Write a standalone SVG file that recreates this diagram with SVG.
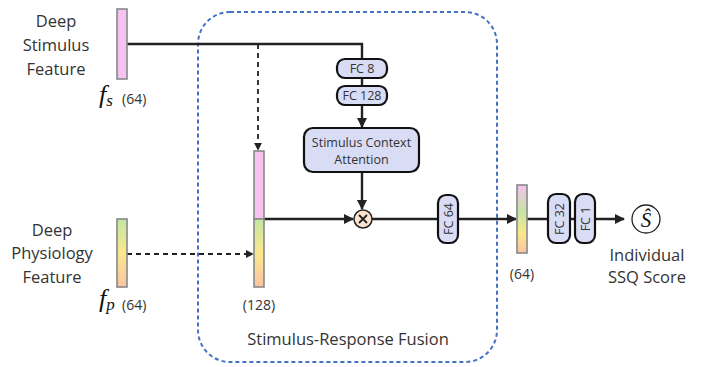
<svg xmlns="http://www.w3.org/2000/svg" width="702" height="367" viewBox="0 0 702 367">
  <style>
    .lbl { font-family: "Open Sans", "Liberation Sans", sans-serif; fill: #333; }
    .big { font-size: 16.5px; }
    .small { font-size: 12.5px; }
    .dim { font-size: 14px; }
    .fc { fill: #d9dcf5; stroke: #111; stroke-width: 2.2; }
    .bar { stroke: #888; stroke-width: 1.6; }
    .line { stroke: #222; stroke-width: 2.4; fill: none; }
    .dash { stroke: #222; stroke-width: 1.8; fill: none; stroke-dasharray: 5 4; }
    .math { font-family: "Liberation Serif", "DejaVu Serif", serif; font-style: italic; fill: #111; }
  </style>
  <defs>
    <marker id="arr" viewBox="0 0 10 10" refX="9" refY="5" markerWidth="4.2" markerHeight="4.2" orient="auto">
      <path d="M0,0 L10,5 L0,10 z" fill="#222"/>
    </marker>
    <marker id="arrd" viewBox="0 0 10 10" refX="9" refY="5" markerWidth="4.6" markerHeight="4.6" orient="auto">
      <path d="M0,0 L10,5 L0,10 z" fill="#222"/>
    </marker>
    <linearGradient id="gPhys" x1="0" y1="0" x2="0" y2="1">
      <stop offset="0" stop-color="#c4e6a4"/>
      <stop offset="0.5" stop-color="#fbe88c"/>
      <stop offset="1" stop-color="#f9c4a4"/>
    </linearGradient>
    <linearGradient id="gOut" x1="0" y1="0" x2="0" y2="1">
      <stop offset="0" stop-color="#f6c2f0"/>
      <stop offset="0.4" stop-color="#c4e6a4"/>
      <stop offset="0.7" stop-color="#fbe88c"/>
      <stop offset="1" stop-color="#f9c4a4"/>
    </linearGradient>
  </defs>

  <rect width="702" height="367" fill="#fff"/>

  <!-- fusion module frame -->
  <g id="fusion-frame">
    <rect x="198" y="12" width="299" height="350" rx="32" fill="none" stroke="#4472c4" stroke-width="2" stroke-dasharray="4 3"/>
    <text class="lbl big" x="348" y="345" text-anchor="middle" font-size="17.5px">Stimulus-Response Fusion</text>
  </g>

  <!-- connectors -->
  <g id="connectors">
    <path class="line" d="M127,44 H362 V59"/>
    <path class="dash" d="M258,44 V150" marker-end="url(#arrd)"/>
    <path class="dash" d="M127,254 H253" marker-end="url(#arrd)"/>
    <path class="line" d="M362,78 V86"/>
    <path class="line" d="M362,105 V127" marker-end="url(#arr)"/>
    <path class="line" d="M362,172 V209" marker-end="url(#arr)"/>
    <path class="line" d="M264,219 H353" marker-end="url(#arr)"/>
    <path class="line" d="M372,219 H516" marker-end="url(#arr)"/>
    <path class="line" d="M527,219 H624" marker-end="url(#arr)"/>
  </g>

  <!-- stimulus feature input -->
  <g id="stimulus-feature">
    <rect class="bar" x="117" y="9" width="10" height="70" fill="#f6c2f0"/>
    <text class="lbl big" x="56" y="27" text-anchor="middle">Deep</text>
    <text class="lbl big" x="56" y="51" text-anchor="middle">Stimulus</text>
    <text class="lbl big" x="56" y="75" text-anchor="middle">Feature</text>
    <text class="math" x="99" y="103" font-size="26">f<tspan font-size="17" dy="3">s</tspan></text>
    <text class="lbl dim" x="122" y="104">(64)</text>
  </g>

  <!-- physiology feature input -->
  <g id="physiology-feature">
    <rect class="bar" x="117" y="219" width="10" height="68" fill="url(#gPhys)"/>
    <text class="lbl big" x="52" y="236" text-anchor="middle">Deep</text>
    <text class="lbl big" x="52" y="259" text-anchor="middle">Physiology</text>
    <text class="lbl big" x="52" y="283" text-anchor="middle">Feature</text>
    <text class="math" x="99" y="307" font-size="26">f<tspan font-size="17" dy="3">p</tspan></text>
    <text class="lbl dim" x="122" y="310">(64)</text>
  </g>

  <!-- concatenated feature -->
  <g id="concat-feature">
    <rect class="bar" x="254" y="151" width="10" height="68" fill="#f6c2f0"/>
    <rect class="bar" x="254" y="219" width="10" height="68" fill="url(#gPhys)"/>
    <text class="lbl dim" x="259" y="310" text-anchor="middle">(128)</text>
  </g>

  <!-- attention branch -->
  <g id="fc8">
    <rect class="fc" x="337" y="59" width="50" height="19" rx="8"/>
    <text class="lbl small" x="362" y="73" text-anchor="middle">FC 8</text>
  </g>
  <g id="fc128">
    <rect class="fc" x="337" y="86" width="50" height="19" rx="8"/>
    <text class="lbl small" x="362" y="100" text-anchor="middle">FC 128</text>
  </g>
  <g id="attention">
    <rect class="fc" x="304" y="128" width="115" height="44" rx="9"/>
    <text class="lbl small" x="361.5" y="147" text-anchor="middle">Stimulus Context</text>
    <text class="lbl small" x="361.5" y="164" text-anchor="middle">Attention</text>
  </g>

  <!-- element-wise product -->
  <g id="multiply">
    <circle cx="363" cy="219" r="9" fill="#fde3d0" stroke="#222" stroke-width="1.5"/>
    <path d="M359,215 L367,223 M367,215 L359,223" stroke="#222" stroke-width="1.8"/>
  </g>

  <g id="fc64">
    <rect class="fc" x="438" y="195" width="20" height="48" rx="8"/>
    <text class="lbl small" transform="translate(452.5,219) rotate(-90)" text-anchor="middle">FC 64</text>
  </g>

  <!-- fused output feature -->
  <g id="fused-feature">
    <rect class="bar" x="517" y="185" width="10" height="68" fill="url(#gOut)"/>
    <text class="lbl dim" x="522" y="279" text-anchor="middle">(64)</text>
  </g>

  <g id="fc32">
    <rect class="fc" x="548" y="194" width="22" height="49" rx="8"/>
    <text class="lbl small" transform="translate(563.5,219) rotate(-90)" text-anchor="middle">FC 32</text>
  </g>
  <g id="fc1">
    <rect class="fc" x="575" y="194" width="20" height="49" rx="8"/>
    <text class="lbl small" transform="translate(589.5,219) rotate(-90)" text-anchor="middle">FC 1</text>
  </g>

  <!-- predicted score -->
  <g id="score">
    <circle cx="646" cy="219" r="14" fill="#fff" stroke="#222" stroke-width="1.3"/>
    <text class="math" x="646" y="227" font-size="21" text-anchor="middle">Ŝ</text>
    <text class="lbl big" x="647" y="261" text-anchor="middle">Individual</text>
    <text class="lbl big" x="647" y="283" text-anchor="middle">SSQ Score</text>
  </g>
</svg>
